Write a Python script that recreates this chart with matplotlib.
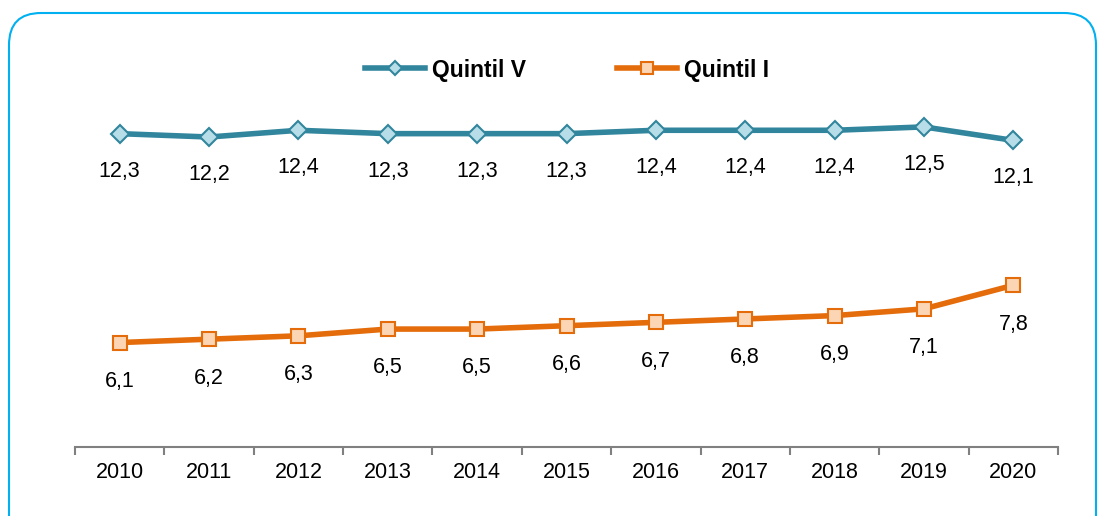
import matplotlib.pyplot as plt
from matplotlib.patches import FancyBboxPatch

plt.rcParams['font.family'] = ['Liberation Sans', 'DejaVu Sans']

# Datos
anios = ['2010', '2011', '2012', '2013', '2014', '2015', '2016', '2017', '2018', '2019', '2020']
quintil_v = [12.3, 12.2, 12.4, 12.3, 12.3, 12.3, 12.4, 12.4, 12.4, 12.5, 12.1]
quintil_i = [6.1, 6.2, 6.3, 6.5, 6.5, 6.6, 6.7, 6.8, 6.9, 7.1, 7.8]

teal, teal_fill = '#31859C', '#B7DEE8'
orange, orange_fill = '#E46C0A', '#FCD5B5'

fig = plt.figure(figsize=(11.04, 5.16), dpi=100)
ax = fig.add_axes([75 / 1104, 69 / 516, 983 / 1104, 374 / 516])

x = list(range(len(anios)))
lv, = ax.plot(x, quintil_v, color=teal, lw=4, marker='D', ms=9,
              mfc=teal_fill, mec=teal, mew=1.5, label='Quintil V')
li, = ax.plot(x, quintil_i, color=orange, lw=4, marker='s', ms=10.5,
              mfc=orange_fill, mec=orange, mew=1.5, label='Quintil I')

# Etiquetas de datos
for xi, v in zip(x, quintil_v):
    ax.annotate(f'{v:.1f}'.replace('.', ','), (xi, v), xytext=(0, -27),
                textcoords='offset points', ha='center', va='center', fontsize=15.5)
for xi, v in zip(x, quintil_i):
    ax.annotate(f'{v:.1f}'.replace('.', ','), (xi, v), xytext=(0, -28),
                textcoords='offset points', ha='center', va='center', fontsize=15.5)

ax.set_xlim(-0.5, len(anios) - 0.5)
ax.set_ylim(3, 14.1)
ax.set_xticks(x)
ax.set_xticklabels(anios, fontsize=15.5)
ax.set_xticks([i - 0.5 for i in range(len(anios) + 1)], minor=True)
ax.tick_params(axis='x', which='major', length=0, pad=11)
ax.tick_params(axis='x', which='minor', length=6, width=1.5, color='#808080', direction='out')
ax.set_yticks([])
for s in ['left', 'top', 'right']:
    ax.spines[s].set_visible(False)
ax.spines['bottom'].set_color('#808080')
ax.spines['bottom'].set_linewidth(1.5)

fig.legend(handles=[lv, li], loc='center', bbox_to_anchor=(567 / 1104, 1 - 70 / 516),
           ncol=2, frameon=False, handlelength=2.6, handletextpad=0.3, columnspacing=4.0,
           markerscale=0.8,
           prop={'family': 'Liberation Sans', 'weight': 'bold', 'size': 16.5})

# Marco redondeado
marco = FancyBboxPatch((0.09, -0.5), 10.87, 5.53, boxstyle='round,pad=0,rounding_size=0.32',
                       transform=fig.dpi_scale_trans, fill=False, ec='#00B0F0', lw=1.5)
fig.patches.append(marco)

fig.savefig('out.png', dpi=100)
